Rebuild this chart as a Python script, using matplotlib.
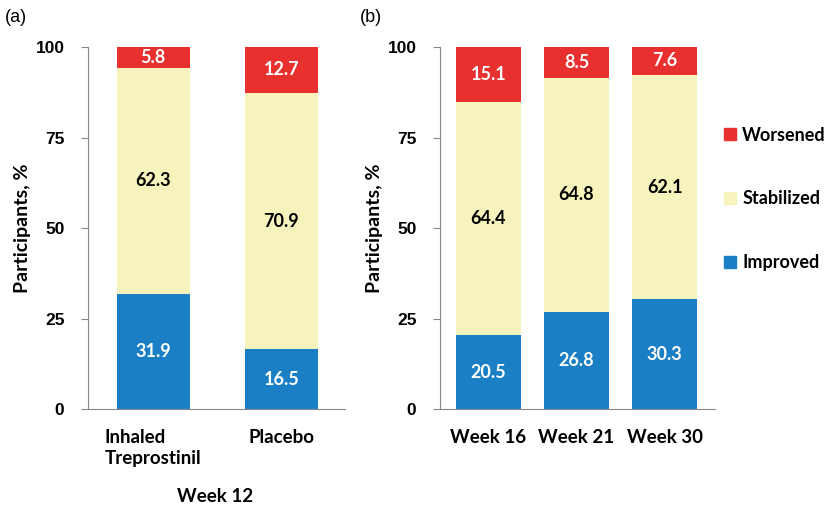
import matplotlib.pyplot as plt
from matplotlib.patches import Patch
import numpy as np

# panel (a), week 12
cats_a = ['Inhaled\nTreprostinil', 'Placebo']
improved_a = [31.9, 16.5]
stabilized_a = [62.3, 70.9]
worsened_a = [5.8, 12.7]

# panel (b)
cats_b = ['Week 16', 'Week 21', 'Week 30']
improved_b = [20.5, 26.8, 30.3]
stabilized_b = [64.4, 64.8, 62.1]
worsened_b = [15.1, 8.5, 7.6]

RED = '#E8302E'
YEL = '#F6F4BC'
BLUE = '#1A7FC4'
LBL = 'Lato'

fig = plt.figure(figsize=(8.35, 5.07), dpi=100)
ax_a = fig.add_axes([0.1054, 0.193, 0.308, 0.714])
ax_b = fig.add_axes([0.527, 0.193, 0.329, 0.714])


def stack(ax, cats, imp, stab, wor, width):
    x = np.arange(len(cats))
    imp = np.array(imp)
    stab = np.array(stab)
    wor = np.array(wor)
    ax.bar(x, imp, width, color=BLUE)
    ax.bar(x, stab, width, bottom=imp, color=YEL)
    ax.bar(x, wor, width, bottom=imp + stab, color=RED)
    for i in range(len(x)):
        ax.text(x[i], imp[i] / 2, f'{imp[i]:.1f}', ha='center', va='center',
                color='white', fontsize=13, fontweight='bold', family=LBL)
        ax.text(x[i], imp[i] + stab[i] / 2, f'{stab[i]:.1f}', ha='center', va='center',
                color='black', fontsize=13, fontweight='bold', family=LBL)
        ax.text(x[i], imp[i] + stab[i] + wor[i] / 2, f'{wor[i]:.1f}', ha='center',
                va='center', color='white', fontsize=13, fontweight='bold', family=LBL)
    ax.set_ylim(0, 100)
    ax.set_yticks([0, 25, 50, 75, 100])
    ax.set_xticks(x)
    ax.set_xticklabels(cats, fontsize=13.5, fontweight='bold', family=LBL,
                       multialignment='left', linespacing=1.35)
    for lab in ax.get_yticklabels():
        lab.set_fontweight('bold')
        lab.set_family('Liberation Sans')
        lab.set_fontsize(12.5)
    ax.tick_params(axis='x', length=0, pad=14)
    ax.tick_params(axis='y', length=5, color='#888888', pad=12)
    ax.spines['top'].set_visible(False)
    ax.spines['right'].set_visible(False)
    ax.spines['left'].set_color('#888888')
    ax.spines['bottom'].set_color('#888888')
    ax.set_ylabel('Participants, %', fontsize=14, fontweight='bold', family=LBL,
                  labelpad=3)


stack(ax_a, cats_a, improved_a, stabilized_a, worsened_a, 0.57)
ax_a.set_xlim(-0.51, 1.5)
stack(ax_b, cats_b, improved_b, stabilized_b, worsened_b, 0.73)
ax_b.set_xlim(-0.55, 2.57)

fig.text(215 / 835, 1 - 496 / 507, 'Week 12', ha='center', va='center',
         fontsize=13.5, fontweight='bold', family=LBL)
fig.text(5 / 835, 1 - 18 / 507, '(a)', ha='left', va='center', fontsize=13,
         family='Liberation Sans')
fig.text(360 / 835, 1 - 18 / 507, '(b)', ha='left', va='center', fontsize=13,
         family='Liberation Sans')

handles = [Patch(color=RED), Patch(color=YEL), Patch(color=BLUE)]
fig.legend(handles, ['Worsened', 'Stabilized', 'Improved'], loc='center left',
           bbox_to_anchor=(708 / 835, 1 - 199 / 507), frameon=False,
           prop={'family': LBL, 'weight': 'bold', 'size': 13},
           handlelength=0.65, handleheight=0.65, handletextpad=0.35,
           labelspacing=2.6)

fig.savefig('out.png', dpi=100)
